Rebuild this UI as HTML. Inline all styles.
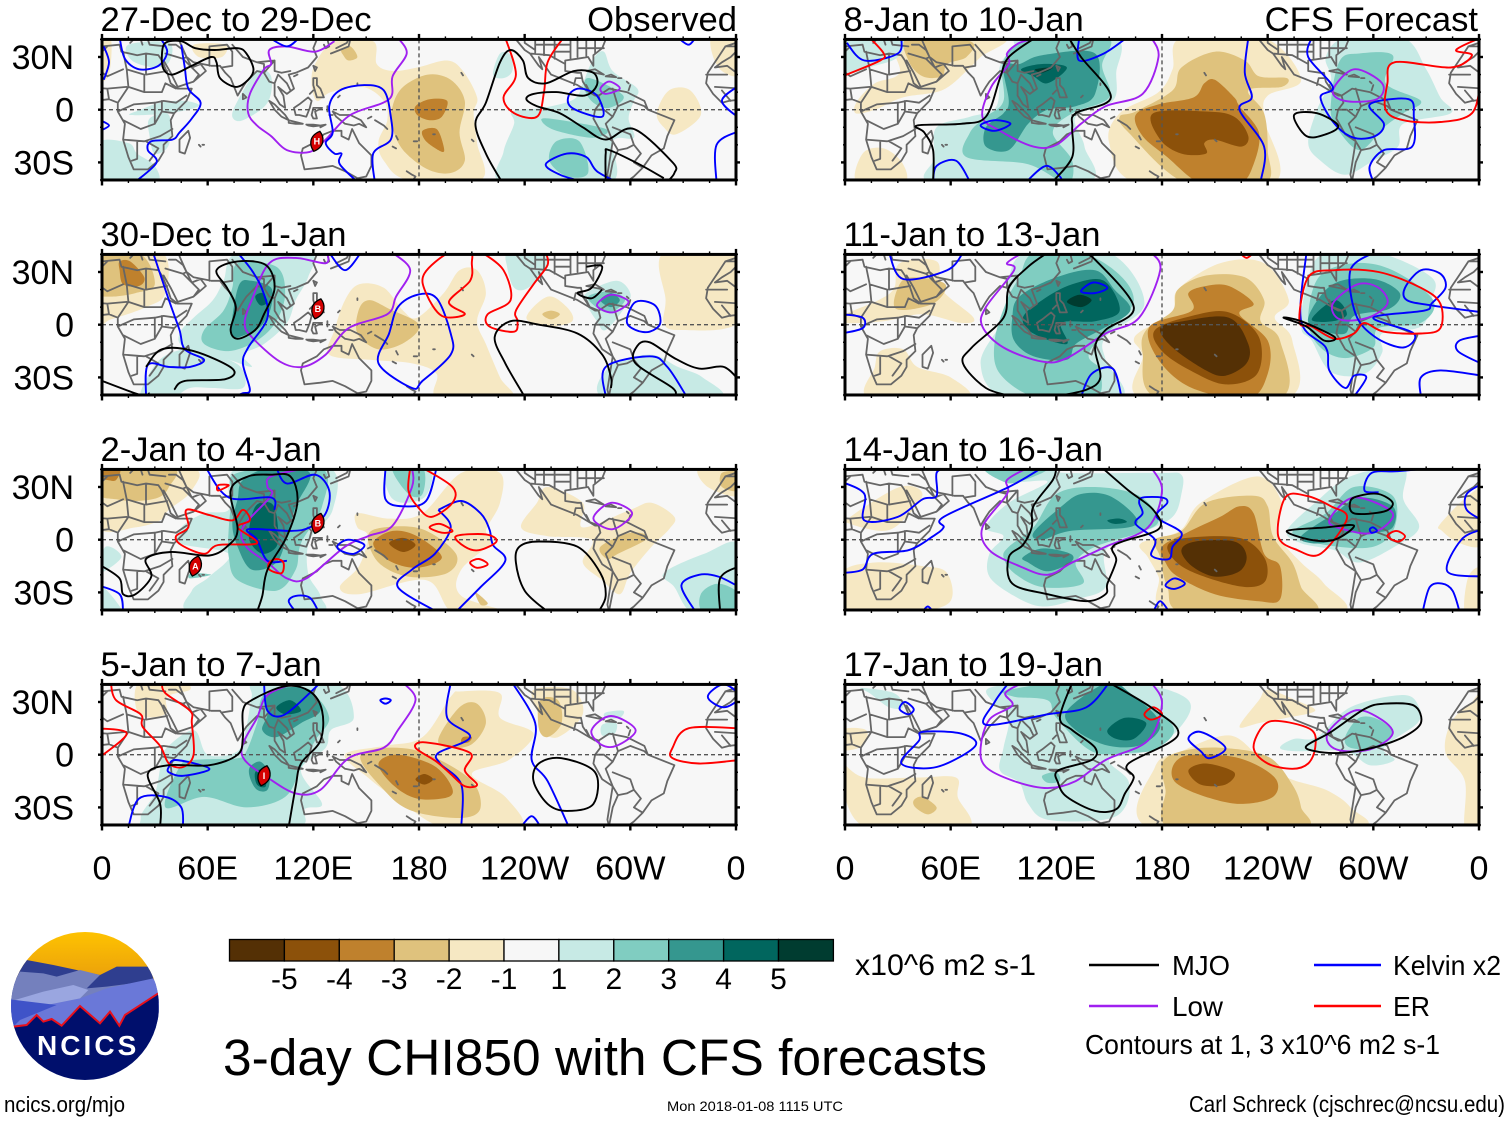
<!DOCTYPE html>
<html lang="en">
<head>
<meta charset="utf-8">
<title>3-day CHI850 with CFS forecasts</title>
<style>
html,body{margin:0;padding:0;background:#fff;}
svg{display:block;}
text{font-family:"Liberation Sans",sans-serif;fill:#000;}
</style>
</head>
<body>
<svg id="chart" xmlns="http://www.w3.org/2000/svg" width="1510" height="1121" viewBox="0 0 1510 1121">
  <g transform="translate(0,920) scale(0.33333)">
    <defs>
      <clipPath id="logoClip"><circle cx="255" cy="258" r="222"/></clipPath>
      <linearGradient id="sun" x1="0" y1="0" x2="0" y2="1"><stop offset="0" stop-color="#ffc400"/><stop offset="1" stop-color="#ea9f0c"/></linearGradient>
    </defs>
    <g clip-path="url(#logoClip)">
      <rect x="30" y="30" width="450" height="150" fill="url(#sun)"/>
      <polygon fill="#2f3e8f" points="30,170 80,120 160,135 300,165 350,140 450,140 480,250 30,250"/>
      <polygon fill="#7480bd" points="30,240 40,190 60,155 130,160 170,170 240,150 300,165 260,205 320,200 470,180 480,300 30,300"/>
      <polygon fill="#6a78d8" points="30,235 50,245 140,255 240,235 320,205 460,175 480,215 480,330 40,320"/>
      <polygon fill="#9aa6e0" points="45,240 130,215 220,195 265,210 240,235 140,255"/>
      <polygon fill="#3f53c8" points="30,238 170,255 60,300 40,320 30,320"/>
      <polygon fill="#000f6c" points="40,320 80,315 110,285 130,305 155,297 185,317 240,258 300,310 330,275 358,317 375,285 475,220 480,480 30,480"/>
      <polyline fill="none" stroke="#e8101c" stroke-width="6" points="40,320 80,315 110,285 130,305 155,297 185,317 240,258 300,310 330,275 358,317 375,285 475,220"/>
    </g>
    <text x="111" y="405" font-size="84" font-weight="bold" textLength="298" lengthAdjust="spacing" style="fill:#fff">NCICS</text>
  </g>
</svg>
<script>
const panelTitles = ["27-Dec to 29-Dec","30-Dec to 1-Jan","2-Jan to 4-Jan","5-Jan to 7-Jan","8-Jan to 10-Jan","11-Jan to 13-Jan","14-Jan to 16-Jan","17-Jan to 19-Jan"];
const lonTickLabels = ["0","60E","120E","180","120W","60W","0"];
const lonTickValues = [0,60,120,180,240,300,360];
const latTickLabels = ["30N","0","30S"];
const latTickValues = [30,0,-30];
const colorbarLevels = [-6,-5,-4,-3,-2,0,2,3,4,5,6];
const colorbarLabels = ["-5","-4","-3","-2","-1","1","2","3","4","5"];
const levelColors = {"-5":"#543005","-4":"#8c510a","-3":"#bf812d","-2":"#dfc27d","-1":"#f6e8c3","1":"#c7eae5","2":"#80cdc1","3":"#35978f","4":"#01665e","5":"#003c30"};

/* land outlines, [lon,lat,...] */
const coastlines = [
[-6,36,0,36,10,37,11,33,20,31,25,32,32,31,34,28,37,21,39,15,43,12,51,12,48,5,41,-2,39,-6,40,-15,35,-20,35,-24,32,-29,26,-34,18,-34,15,-27,12,-17,13,-8,9,-1,9,4,4,6,-4,5,-8,4,-13,9,-17,15,-16,21,-10,30,-6,36],
[49,-12,50,-16,47,-25,44,-24,44,-17,49,-12],
[35,28,39,21,43,13,52,16,59,22,56,26,51,24,48,30,52,27,57,26,62,25,67,25,70,21,73,18,77,8,80,13,82,16,88,22,92,21,95,16,98,15,98,8,101,3,104,1,103,8,100,13,105,9,109,12,106,20,110,21,117,24,122,30,120,35,122,40],
[36,36,27,37,26,40],[23,37,22,40],[16,38,18,40],[-6,36,0,38,0,40],
[95,5,98,3,104,-3,106,-6,102,-4,98,0,95,5],[106,-6,110,-7,114,-8,110,-8,106,-7.5,106,-6],[116,-8.5,120,-8.5,124,-9,120,-9.5,117,-9,116,-8.5],[124,-9,127,-8.5,124,-10,124,-9],
[109,1,112,3,117,7,119,5,118,1,116,-4,112,-3,110,-3,109,1],
[120,1,125,1,121,-1,122,-5,120,-5,119,-3,120,1],[128,2,128,-1],[129,-3,131,-3],[131,-1,135,-3,141,-3,147,-6,150,-10,146,-8,143,-9,138,-8,133,-4,131,-1],
[120,18,122,18,122,14,124,12,126,7,122,7,120,14,120,18],[118,9,120,11],
[130,32,135,34,140,36,141,40],[133,35,139,38,140,40],[120,25,122,24,121,22,120,25],[80,9,82,7,80,6,80,9],[126,37,127,35,129,36,128,40],[109,19,111,20],
[114,-22,122,-18,126,-14,131,-12,136,-12,136,-15,140,-17,142,-11,146,-19,153,-26,153,-32,150,-38,145,-39,138,-35,131,-32,124,-33,115,-34,113,-26,114,-22],
[145,-41,148,-41],[173,-35,176,-37,178,-38,176,-41],[172,-41,174,-41],[151,-5,153,-4],[155,-6,160,-9,162,-11],[167,-15,168,-17],[165,-21,167,-22],[177,-18,179,-18],[204,21,205,19.5],[145,14,145,15],[134,7,135,8],[-172,-14,-171,-14],[-150,-17,-149,-18],[55,-20,56,-21],[57,-20,58,-20],
[-125,40,-120,34,-117,32,-112,25,-110,23,-112,30,-105,20,-95,16,-90,14,-85,11,-80,8,-78,8,-83,10,-87,16,-88,21,-90,21,-97,22,-97,28,-90,29,-84,30,-81,25,-81,31,-76,35,-74,40],
[-78,8,-72,12,-62,10,-52,5,-50,0,-35,-6,-39,-15,-41,-22,-48,-26,-53,-33,-58,-38,-62,-41,-72,-41,-73,-37,-70,-18,-76,-14,-81,-5,-80,0,-77,4,-78,8],
[-85,22,-75,20,-80,23,-85,22],[-74,19,-68,18.5,-71,20,-74,19],[-61,11,-60,14],[-67,18,-65,18],[-62,16,-61,15],
[25,32,25,20,37,22],[12,33,14,23,24,20,24,10,15,13,14,23],[3,36,-3,30,-8,27,-12,24,-5,25,3,19,12,23],[4,6,3,12,14,13],[9,4,15,13],[9,-1,18,3,30,4,35,5,42,4,48,8],[34,10,24,10],[36,15,42,12,36,15,34,10],[12,-6,22,-11,30,-8,30,-1,30,4],[12,-17,24,-18,33,-15,40,-11],[20,-18,20,-28,17,-29],[25,-18,32,-22,30,-25,27,-29],[30,-8,34,-1,41,-2],[34,-1,34,5],[-17,20,-5,20],[-12,13,3,12],[-8,11,-3,5],
[36,32,46,29,48,30],[46,29,55,20,52,16],[38,37,42,37,46,34,48,30],[44,39,48,30],[61,36,61,25],[61,36,71,37,74,33,74,25,68,24],[74,37,80,30,88,27,98,28,98,22,102,21,107,22],[92,21,98,28],[98,15,100,20,102,18,105,15,107,11],[88,27,92,26,92,21],
[-117,32,-106,31,-97,26],[-114,32,-114,40],[-109,31,-109,40],[-103,29,-103,40],[-120,40,-120,38,-114,34],[-114,37,-94,37],[-94,29,-94,40],[-90,30,-90,40],[-90,35,-75,35],[-85,30,-85,40],[-80,32,-80,40],[-103,33,-94,33],[-92,14,-91,18,-88,18],[-83,10,-85,14],
[-70,12,-67,2,-70,-4,-74,-8,-70,-18],[-67,2,-60,5,-52,2,-50,0],[-70,-10,-60,-14,-58,-20,-54,-25,-58,-30,-53,-33],[-70,-18,-67,-23,-70,-30,-72,-40],[-80,0,-75,0,-70,-4],[-58,-20,-62,-22,-67,-23]
];

/* ---- 27-Dec to 29-Dec ---- */
const shade0 = [
[-1,121,26,132,39,154,39,156,26,165,22,179,24,196,28,205,22,213,7,211,-2,213,-19,215,-40,174,-40,160,-29,157,-18,162,-6,160,5,148,13,130,10,122,5,119,15],
[-2,165,2,171,13,185,20,198,17,206,5,203,-13,206,-29,198,-36,185,-34,171,-23,165,-10],[-2,136,34,141,36,145,30,140,28,137,31],
[-3,178,2,186,6,196,5,193,-4,186,-6,179,-3],[-3,182,-12,190,-11,194,-21,193,-24,184,-18],
[-1,315,-2,322,11,334,11,340,-3,326,-14,319,-10],[-1,346,41,362,41,362,20,350,24],[-1,-2,41,5,41,4,20,-2,18],[-1,52,37,70,37,68,30,55,30],
[1,228,-42,228,-24,234,-8,233,-1,250,1,268,6,273,15,279,29,285,33,290,22,304,12,302,5,299,-5,302,-16,290,-18,288,-42],
[1,222,20,226,32,232,31,233,22,228,18],
[2,250,-7,254,-5,286,-11,279,-16,258,-12],[2,254,-29,258,-18,271,-18,276,-36,264,-38],[2,274,12,277,18,296,8,288,1,279,4],
[1,-2,-19,15,-19,20,-25,30,-32,30,-42,-2,-42],[1,16,-3,38,-2,55,2,47,5,33,4,22,0],[1,27,-5,38,-3,38,-20,30,-25,27,-15],[1,74,-4,77,5,88,22,96,19,94,4,80,-6],[1,15,37,38,38,38,27,30,24,17,28]
];
const mjo0 = [[36,38,34,31,35,23,40,20,51,25,62,30,65,27,67,18,76,13,83,17,86,23,82,32,77,35,64,34,53,35,45,39,36,38],
[227,-41,218,-25,212,-8,218,4,226,27,232,34,239,28,242,18,252,15,268,22,279,21,281,14,274,8,258,10,245,9,241,6,247,2,260,-2,273,-10,286,-17,302,-11,324,-30,325,-36,321,-41],
[286,-41,286,-25,288,-23,305,-31,319,-39]];
const low0 = [[132,39,121,33,105,36,95,34,96,26,92,23,84,9,83,-2,88,-9,96,-15,105,-23,118,-24,127,-17,141,-3,163,6,165,19,173,32,168,41],[283,12,288,16,294,12,286,9,283,12]];
const kelvin0 = [[1,36,4,27,1,17],[10,41,13,29,21,23,32,25,37,33,33,41],[45,37,47,24,49,12,56,4,51,-5,44,-13,40,-17,28,-18,26,-23,31,-30,19,-41],[-1,-6,4,-9,-1,-12],[95,41,105,36,112,41],
[155,-42,154,-25,164,-17,164,-4,160,11,149,14,135,11,129,2,131,-13,127,-19,132,-25,136,-25,135,-31,146,-42],
[294,-42,281,-35,275,-27,264,-25,252,-31,260,-37,273,-41],[349,-42,349,-20,362,-12],[362,14,352,5,362,-5],[265,8,271,12,281,8,284,-4,267,1,265,8],[327,41,333,37,337,41]];
const er0 = [[229,41,235,20,228,7,234,-2,247,-4,251,10,253,27,262,41]];
const storms0 = [["H",122,-18]];

/* ---- 30-Dec to 1-Jan ---- */
const shade1 = [
[-1,-2,41,34,41,36,18,25,10,5,3,-2,2],[-2,-2,40,22,40,30,23,19,18,5,16,-2,19],[-3,10,36,16,36,24,27,21,22,12,23,10,31],
[1,77,41,118,41,117,27,110,14,105,1,92,-11,80,-17,85,-24,72,-20,47,-13,44,-5,52,4,63,14,69,25],
[2,77,35,99,33,104,18,99,2,88,-9,72,-15,58,-11,58,-3,69,8,74,21],[3,78,23,85,25,96,21,96,10,91,0,83,-5,74,-7,74,4],[4,87,16,91,18,94,13,90,11],
[1,22,-42,28,-26,37,-17,52,-14,72,-20,80,-26,80,-36,63,-36,50,-36,39,-42],[1,288,-24,311,-17,327,-24,341,-30,350,-42,286,-42],[1,231,41,250,41,253,33,242,21,234,21,230,33],
[1,275,18,292,25,300,18,297,10,286,-3,281,2,275,12],[2,276,16,289,19,297,14,289,7,282,9],[3,283,14,289,18,294,14,289,10],
[-1,319,41,362,41,362,2,328,-3,319,1,320,14],
[-1,146,23,160,21,171,8,179,4,194,18,203,31,213,31,218,18,213,2,218,-11,226,-30,232,-42,191,-42,190,-28,176,-22,152,-20,129,-17,132,-3,138,14],
[-2,146,9,152,14,163,9,180,0,172,-10,157,-14,145,-5],[-1,241,4,253,16,264,10,267,2,253,-1],[-2,250,6,255,8,260,6,255,3]
];
const mjo1 = [[65,31,77,36,93,34,98,21,92,6,87,-3,77,-8,73,-3,76,10,71,21,65,31],[0,-32,22,-40,27,-39],[25,-24,34,-14,52,-15,74,-25,70,-31,47,-32,41,-37],
[240,-41,229,-22,223,-7,232,2,248,0,270,-5,284,-17,289,-30,289,-36],[325,-41,324,-36,303,-22,304,-12,311,-10,325,-19,339,-25,353,-24,362,-32],[275,33,284,33,278,21,270,18,278,15,284,20]];
const low1 = [[165,41,175,31,167,16,162,6,140,-2,127,-17,114,-24,101,-21,85,-7,81,1,85,14,95,35,110,38,127,35,128,41],[281,11,289,17,299,13,290,7,281,11]];
const kelvin1 = [[29,41,38,14,44,-3,47,-14,58,-20,50,-24,38,-24,26,-23,25,-41],[77,41,85,31,91,20,94,4,83,-13,80,-22,84,-37,80,-39,74,-41],[129,41,138,31,147,41],
[176,-36,157,-22,163,-5,168,10,179,17,190,15,198,-5,198,-17,182,-32,176,-36],[298,2,303,13,314,11,317,1,311,-4,303,-3,298,2],[286,-41,286,-24,311,-18,321,-24,332,-41]];
const er1 = [[216,41,228,31,232,14,219,6,220,-1,234,-4,236,2,235,8,245,23,253,34,252,41],[209,41,197,41,183,29,184,18,193,5,206,6,197,13,209,25,210,35,209,41]];
const storms1 = [["B",122.6,9]];

/* ---- 2-Jan to 4-Jan ---- */
const shade2 = [
[-1,-2,41,51,41,51,28,38,17,33,11,19,7,-2,7],[-2,-2,41,40,41,38,30,32,24,19,22,8,23,-2,26],[-3,-2,41,10,41,8,34,3,34,-2,35],
[1,2,-4,11,-10,-2,-19],[1,80,41,129,41,131,17,118,0,117,-19,124,-32,121,-42,52,-42,51,-29,61,-21,72,-8,44,-2,45,7,58,15,72,17,72,32],
[2,77,38,124,41,125,19,113,-2,110,-17,99,-29,77,-23,72,-10,72,7,74,25],[2,51,-19,62,-20,50,-22],
[3,80,34,96,41,118,38,110,19,105,2,99,-13,85,-17,77,-4,74,9,77,23],[4,88,20,97,20,100,6,99,-4,91,-8,84,-1,84,9],
[1,162,41,186,41,184,25,171,21,163,26],[2,165,41,182,41,182,26,174,26],
[1,319,-19,342,-8,362,-3,362,-42,336,-42,325,-27],[2,340,-31,350,-25,362,-31,362,-42,342,-42],[1,-2,-25,12,-42,-2,-42],
[-1,145,15,163,12,182,15,204,38,226,38,226,21,218,5,223,0,204,-17,204,-32,232,-42,200,-42,184,-23,146,-31,135,-27,146,-15,151,2,145,7],
[-2,151,2,160,7,182,6,201,-8,196,-19,174,-21,157,-13],[-3,154,-2,165,5,179,2,193,-10,179,-16,163,-12],[-4,163,-2,171,1,178,-3,171,-7],[-2,212,-30,219,-36,215,-37],
[-1,238,7,247,21,253,30,273,21,273,7,300,17,312,21,325,13,322,6,312,-4,300,-19,294,-31,284,-23,273,-13,278,0,253,2],[-2,283,-4,300,4,310,1,293,-8,287,-11],
[-1,339,41,362,41,362,25,344,30],[-2,352,38,362,38,362,28,352,30]
];
const mjo2 = [[0,-15,10,-22,12,-31,19,-31,28,-21,25,-11,39,-7,61,-9,72,-3,77,6,73,28,83,36,96,37,107,36,111,22,105,2,94,-17,91,-32,88,-41],
[253,-41,240,-29,235,-13,237,-4,248,-1,270,-4,283,-19,286,-32,282,-41],[351,-41,351,-22,362,-15]];
const low2 = [[117,41,96,36,94,30,96,25,80,7,82,-4,94,-13,105,-22,116,-22,138,-4,151,2,165,8,176,30,176,41],[279,12,289,21,301,15,290,6,279,12]];
const kelvin2 = [[59,41,72,24,96,24,98,17],[99,41,105,32,121,37,129,28,127,15,118,7,107,5,83,6,88,0,94,-12,105,-12],[161,41,161,23,171,19,184,22,190,41],
[191,17,204,22,215,15,220,6,222,-3,229,-12,215,-27,201,-41],[190,-41,168,-27,176,-17,189,-8,198,7,191,17],[134,-3,140,0,149,-3,143,-8,135,-6,134,-3],
[123,-41,118,-33,110,-32,106,-35,110,-41],[337,-41,329,-26,339,-20,350,-21,362,-27],[-2,-26,10,-31,12,-41]];
const er2 = [[42,2,49,7,48,17,61,14,74,11,80,17,84,11,77,7,88,-2,66,-3,58,-8,45,-3,42,2],[66,31,72,31,66,28,66,31],[95,-13,99,-11,103,-13,102,-19,95,-17,95,-13],
[182,41,199,30,199,21,187,13,179,19,174,28,175,41],[186,7,192,9,199,5,193,4,186,7],[201,2,218,3,224,-1,214,-6,206,-4,201,2],[209,-13,214,-11,219,-14,213,-16,209,-13]];
const storms2 = [["B",122.6,9.3],["A",53,-15]];

/* ---- 5-Jan to 7-Jan ---- */
const shade3 = [
[-1,21,41,45,41,50,37,37,33,36,23,21,23],
[1,88,41,132,41,143,21,130,14,127,4,113,-9,125,-28,115,-31,108,-42,32,-42,22,-36,30,-22,33,-8,35,2,52,14,60,0,77,2,82,16,85,33],
[2,93,35,118,35,129,21,121,8,113,-7,104,-24,82,-30,58,-24,36,-30,44,-7,52,-3,77,-2,82,2,88,18],
[3,93,33,101,38,118,37,124,25,113,18,99,10,91,14,94,23],[4,99,27,107,31,113,25,104,23],[3,84,-7,90,-4,95,-11,94,-20,88,-20,84,-13],[4,87,-10,92,-9,93,-18,88,-17],
[1,286,24,296,25,294,21,286,21],[1,284,17,292,18,291,12,284,11],
[-1,182,10,198,33,204,36,226,35,226,21,245,12,231,-3,210,-11,229,-24,238,-42,196,-42,171,-28,151,-13,138,0,160,5],
[-2,191,9,203,27,213,29,218,18,210,6,197,4],[-3,205,10,210,10,208,7,204,7],[-2,147,0,176,3,208,-13,215,-30,204,-36,176,-32,160,-20],
[-3,157,-5,168,0,188,-6,198,-17,197,-24,179,-25,165,-17],[-4,178,-14,183,-11,188,-14,183,-17],
[-1,245,37,267,37,273,23,259,10,249,14,247,25],[-2,249,31,259,31,261,18,253,10,248,15]
];
const mjo3 = [[33,-41,33,-28,26,-11,38,-6,61,-6,77,0,80,10,80,25,85,31,104,39,118,36,125,25,124,8,113,-5,110,-18,106,-41],[245,-15,248,-5,261,-2,280,-10,279,-28,264,-32,253,-28,245,-15]];
const low3 = [[171,41,178,31,168,14,160,4,140,-2,124,-20,110,-22,94,-13,81,-3,80,6,88,21,94,34,110,41],[278,14,289,22,303,14,292,5,283,6,278,14]];
const kelvin3 = [[92,41,94,25,104,23,124,41],[198,41,196,21,209,10,191,1,192,-5,204,-17,204,-41],[233,41,246,18,244,-3,253,-15,265,-41],[158,31,161,32,164,31,161,29,158,31],
[15,-41,21,-25,36,-24,45,-30,46,-41],[38,-7,42,-3,61,-8,46,-12,38,-10,38,-7],[238,-41,244,-35,249,-41],[344,33,353,40,362,33,353,27,344,33]];
const er3 = [[-2,-2,14,12,-2,15],[5,41,8,31,22,23,23,16,33,5,38,-5,46,-7,52,0,51,18,50,25,36,35,34,41],[178,4,184,7,209,1,206,-9,213,-17,206,-18,198,-11,190,-4,178,4],[362,15,333,15,324,4,324,-2,339,-5,362,-3]];
const storms3 = [["I",92,-12]];

/* ---- 8-Jan to 10-Jan ---- */
const shade4 = [
[-1,31,41,90,41,77,30,69,22,55,11,33,7,17,0,6,-2,7,5,17,15,31,21],[-2,36,41,71,39,69,30,58,26,55,19,44,19,36,28],[-1,10,-25,22,-22,33,-31,33,-42,7,-42],
[-1,156,-2,178,10,186,23,191,41,238,41,259,17,240,8,238,-5,243,-42,167,-42,150,-19],
[-2,165,-1,186,11,191,24,210,33,227,28,235,19,251,18,248,13,229,11,238,-2,240,-23,238,-42,194,-42,161,-13,156,-4],
[-3,165,-3,178,3,198,7,204,15,210,17,221,7,224,2,235,-13,232,-31,224,-42,202,-42,183,-27,169,-15],
[-4,175,-2,205,-1,221,-4,229,-15,225,-21,210,-17,204,-19,205,-25,191,-25,179,-17],
[1,101,41,153,41,154,21,152,5,131,-4,136,-21,136,-42,51,-42,51,-27,52,-10,71,-4,86,2,88,25,96,35],
[2,107,41,149,41,146,25,150,7,129,-2,118,-13,129,-29,126,-42,104,-31,69,-27,71,-13,80,-4,90,5,90,28],
[3,93,5,90,25,99,26,112,31,142,32,142,9,131,2,115,0,104,-8,93,-23,80,-21,80,-10,90,-2],[4,100,23,112,26,126,24,115,15,107,19],[5,108,23,118,24,112,21],
[1,-2,41,32,41,30,30,17,25,-2,21],
[1,268,0,276,17,273,30,284,41,317,41,330,23,338,7,344,-2,317,-8,314,-21,300,-29,284,-37,270,-29,263,-19],
[2,276,5,281,28,292,32,311,31,307,15,327,5,317,-2,306,-10,292,-23,278,-8]
];
const mjo4 = [[118,-41,129,-27,129,-10,131,-2,151,7,134,30,127,41],[108,41,93,30,88,18,80,-4,66,-8,41,-9,45,-13,50,-23,50,-41],[255,-3,268,-2,280,-9,273,-14,262,-15,255,-3]];
const low4 = [[174,41,178,30,169,9,148,2,134,-8,120,-20,107,-21,88,-12,78,-4,83,13,93,26,92,32,99,38,110,41],[277,11,289,23,305,15,302,6,284,5,277,11]];
const kelvin4 = [[1,38,11,28,30,32,32,41],[133,41,133,28,147,32,160,41],[77,-9,85,-6,94,-8,85,-12,77,-9],[50,-41,52,-32,63,-29,71,-41],[103,-41,114,-32,122,-38,123,-41],
[229,41,227,21,231,7,224,0,238,-21,236,-41],[265,41,263,30,277,13,270,7,278,-8,289,-16,301,-15,306,-8,298,3,320,6,323,-4,322,-21,306,-23,298,-32,300,-41]];
const er4 = [[-1,19,1,20,20,28,22,32,14,41],[361,17,356,-2,338,-7,317,-6,307,0,308,15,312,27,344,24,356,31,347,34,361,41]];
const storms4 = [];

/* ---- 11-Jan to 13-Jan ---- */
const shade5 = [
[-1,31,35,52,36,55,20,73,4,66,1,44,6,22,2,-2,1,-2,5,19,14,28,21],[-2,31,23,39,27,57,23,50,12,29,9],[-1,20,-15,33,-14,41,-24,60,-30,69,-42,14,-42,17,-24],
[-1,164,-9,169,-3,186,6,189,20,213,35,238,35,252,14,244,4,254,-9,251,-42,169,-42,169,-18],
[-2,171,-3,186,8,189,20,205,28,227,27,238,14,236,2,247,-9,247,-42,178,-42,169,-16],
[-3,173,-1,197,8,195,18,205,22,218,22,232,12,224,6,240,-9,240,-28,229,-42,197,-36,178,-20],
[-4,176,-3,197,5,218,7,235,-7,234,-28,216,-34,196,-26,180,-15],[-5,179,-2,192,2,218,4,229,-11,228,-22,216,-29,205,-26,186,-13],
[1,104,41,150,41,170,12,148,-7,148,-20,156,-42,93,-42,77,-22,90,4,93,27],
[2,108,41,142,38,164,14,139,-15,145,-26,142,-42,110,-42,88,-28,85,-9,92,14,99,27],
[3,99,16,120,27,142,31,153,20,162,8,145,-3,131,-11,126,-20,107,-18,96,-9,95,4],
[4,101,4,112,14,129,23,147,25,156,8,142,2,123,1,126,-11,107,-5],[5,126,13,133,17,140,14,134,10],
[1,259,-1,263,27,273,41,303,41,333,27,333,14,327,-1,305,-5,305,-16,295,-28,276,-27,265,-9],
[2,263,2,269,27,289,35,311,31,334,14,327,1,303,-2,300,-13,284,-19,270,-13],[3,263,4,277,23,300,26,315,18,309,9,289,5,284,-5,270,-3],[4,265,3,278,14,285,6,277,2]
];
const mjo5 = [[115,41,104,33,93,21,90,4,72,-13,67,-22,80,-36,96,-41],[134,41,142,37,164,10,148,-3,142,-13,145,-30,137,-37,118,-41],[249,4,259,2,278,-7,272,-9,262,-1,249,4]];
const low5 = [[174,41,179,31,167,4,148,-5,126,-19,112,-21,90,-13,78,-1,80,10,96,31,92,35,101,41],[277,12,291,23,303,21,308,12,297,4,281,3,277,12]];
const kelvin5 = [[25,41,33,26,58,31,67,41],[-2,6,10,4,10,-2,-2,-5],[134,19,141,24,149,21,142,18,134,19],[134,-41,140,-28,152,-25,157,-41],
[262,41,259,2,273,-13,275,-26,284,-36,289,-29,296,-30,289,-41],
[300,41,287,31,290,6,301,-7,317,-13,323,-5,300,4,329,8,333,12,341,21,338,29,327,31,318,21,319,14,333,11,362,7],[362,-6,349,-9,348,-15,361,-22],[327,-41,327,-30,338,-26,362,-29]];
const er5 = [[224,41,228,38,232,41],[263,27,278,31,303,30,327,21,338,12,338,-2,327,-5,306,-4,295,1,289,-5,278,-8,265,-1,258,2,263,27]];
const storms5 = [];

/* ---- 14-Jan to 16-Jan ---- */
const shade6 = [
[-1,-2,-19,17,-13,44,-15,58,-19,59,-36,33,-42,-2,-42],[-1,3,13,31,30,44,26,33,11,22,5,3,9],[-1,338,9,355,26,362,26,362,-2,349,-2,339,5],[-1,352,-42,354,-21,362,-17,362,-42],
[-1,168,-2,190,5,202,21,234,36,248,21,245,4,259,-13,272,-25,280,-42,186,-42,178,-21,172,-10],
[-2,176,0,191,5,205,21,232,25,240,19,243,2,254,-13,259,-27,265,-42,194,-42,183,-27,179,-10],
[-3,180,-4,194,4,213,13,224,19,232,15,238,-8,247,-15,247,-34,235,-35,210,-31,189,-21,182,-13],
[-4,183,-4,194,1,224,1,238,-10,239,-23,229,-27,210,-23,191,-15],[-5,191,-6,199,-1,221,-1,228,-9,224,-18,210,-21,197,-15],
[1,80,41,118,41,125,38,178,38,191,37,191,26,186,13,169,4,148,-6,148,-27,131,-34,112,-38,96,-32,82,-21,82,-8,90,2,80,7,93,21,115,33,93,33],
[2,93,-4,107,7,120,26,142,30,167,25,178,11,167,4,142,-4,131,-13,135,-25,112,-27,96,-19,90,-10],[3,101,-10,112,-5,128,-8,128,-13,115,-18,104,-13],
[3,107,4,123,19,134,26,150,25,165,13,161,7,128,5,112,0],[4,149,11,156,12,160,10,153,9],[2,80,41,115,41,99,33,90,33],
[1,251,5,267,21,287,36,317,41,317,23,326,7,312,-4,292,-13,278,-6,259,-2],[2,254,4,273,15,289,30,311,25,312,7,300,-4,273,-3],
[3,259,2,278,15,292,24,311,19,311,7,300,4,287,4,276,-1,265,-2]
];
const mjo6 = [[120,41,118,34,107,19,106,7,101,-3,93,-10,95,-25,115,-31,137,-35,148,-31,149,-25,154,-12,153,-3,178,6,175,17,161,28,146,41],[251,5,273,7,289,8,278,0,264,0,251,5],[287,22,292,25,303,26,311,21,306,16,289,15,287,22]];
const low6 = [[174,41,180,28,172,7,148,-4,129,-13,115,-20,99,-15,82,-6,78,7,92,26,92,34,104,41],[275,11,289,24,311,15,300,4,283,6,275,11]];
const kelvin6 = [[-2,33,11,26,11,11,30,13,44,23,52,25,52,38,58,41],[-2,-19,10,-17,16,-8,36,-6,50,2,56,7,56,13,93,30,112,41],
[184,-11,186,-4,191,4,177,13,183,21,180,24,169,24,167,21,169,15,165,9,176,0,174,-9,184,-11],[182,-26,187,-22,193,-25,187,-28,182,-26],[175,-41,179,-35,184,-41],[44,-41,47,-38,50,-41],
[303,27,295,28,299,38,314,39,336,41],[362,32,353,26,353,17,362,11],[362,6,350,0,342,-18,362,-21],[328,-41,332,-27,339,-25,345,-29,349,-41],[298,6,300,7,302,5,299,4,298,6]];
const er6 = [[250,24,262,25,276,19,285,12,270,-8,257,-6,246,2,250,24],[308,2,313,5,318,2,314,-1,308,2]];
const storms6 = [];

/* ---- 17-Jan to 19-Jan ---- */
const shade7 = [
[-1,-2,-5,11,-13,41,-13,63,-13,64,-24,69,-42,13,-42,-2,-17],[-1,-2,14,12,14,10,5,-2,3],[-2,39,-26,44,-24,52,-30,47,-34,40,-30],
[-1,344,18,355,29,362,29,362,-42,352,-42,352,-15,341,1],[-1,224,16,235,31,240,37,256,31,267,25,251,21,235,18],
[-1,174,-42,176,-7,191,2,218,11,235,-1,251,-13,273,-20,287,-30,289,-42],
[-2,180,-5,191,2,213,4,240,-1,254,-17,259,-30,259,-42,186,-42,182,-20],[-3,187,-5,197,0,224,-2,244,-13,243,-24,224,-28,202,-23,187,-15],[-4,195,-9,205,-5,221,-10,216,-17,202,-17],
[1,82,38,115,41,164,41,195,31,189,14,170,2,150,-3,161,-15,159,-30,147,-37,115,-37,104,-28,99,-16,88,-9,90,4,93,21,85,29],
[2,93,37,145,41,185,18,178,4,161,1,140,2,120,21,115,31,96,33],[3,126,25,149,41,162,35,179,18,169,6,150,5,131,14],[4,149,14,159,21,171,18,164,9,154,9],[2,112,-12,120,-10,122,-15,115,-16],
[1,247,4,255,9,268,10,287,27,317,34,326,27,325,18,306,4,312,-3,298,-6,284,2,256,2],[2,284,10,292,21,303,20,311,12,301,4,287,4],[1,9,38,28,35,33,27,25,27,14,35]
];
const mjo7 = [[129,41,122,21,129,14,142,4,140,-3,121,-9,121,-16,126,-24,142,-32,154,-31,159,-22,164,-13,161,-5,189,11,175,26,150,41],[262,5,276,13,295,26,306,29,323,28,327,18,317,10,300,4,281,1,267,2,262,5]];
const low7 = [[174,41,180,29,172,8,148,-3,131,-15,115,-19,96,-15,80,-7,77,4,82,20,95,28,91,35,101,41],[274,12,289,25,303,21,311,12,298,3,279,3,274,12]];
const kelvin7 = [[31,26,34,30,39,26,36,23,31,26],[93,41,85,30,80,17,115,23,137,27,150,41],[32,-5,42,8,44,13,66,12,74,5,52,-7,32,-5],[195,9,202,13,216,4,207,-2,202,2,195,9]];
const er7 = [[170,23,175,27,180,23,174,20,170,23],[232,4,238,17,248,19,265,14,267,4,263,-5,254,-8,240,-5,232,4]];
const storms7 = [];

const shadeSets = [shade0,shade1,shade2,shade3,shade4,shade5,shade6,shade7];
const mjoSets = [mjo0,mjo1,mjo2,mjo3,mjo4,mjo5,mjo6,mjo7];
const lowSets = [low0,low1,low2,low3,low4,low5,low6,low7];
const kelvinSets = [kelvin0,kelvin1,kelvin2,kelvin3,kelvin4,kelvin5,kelvin6,kelvin7];
const erSets = [er0,er1,er2,er3,er4,er5,er6,er7];
const stormSets = [storms0,storms1,storms2,storms3,storms4,storms5,storms6,storms7];

const svg = document.getElementById('chart');
const NS = 'http://www.w3.org/2000/svg';
const colLeft = [102, 845], rowZero = [109.7, 324.7, 539.7, 754.7];
const mapW = 634, latScale = 1.757;
function make(parent, tag, attrs){
  const el = document.createElementNS(NS, tag);
  for (const k in attrs) el.setAttribute(k, attrs[k]);
  parent.appendChild(el);
  return el;
}
function lonToX(col, lon){ return colLeft[col] + lon / 360 * mapW; }
function latToY(row, lat){ return rowZero[row] - lat * latScale; }
function toPts(flat, col, row){
  const p = [];
  for (let i = 0; i < flat.length; i += 2) p.push([lonToX(col, flat[i]), latToY(row, flat[i + 1])]);
  return p;
}
function smooth(p, closed){
  const n = p.length, f = v => v.toFixed(1);
  let d = 'M' + f(p[0][0]) + ' ' + f(p[0][1]);
  const count = closed ? n : n - 1;
  for (let i = 0; i < count; i++){
    const p0 = closed ? p[(i - 1 + n) % n] : p[Math.max(i - 1, 0)];
    const p1 = p[i % n];
    const p2 = p[(i + 1) % n];
    const p3 = closed ? p[(i + 2) % n] : p[Math.min(i + 2, n - 1)];
    d += 'C' + f(p1[0] + (p2[0] - p0[0]) / 6) + ' ' + f(p1[1] + (p2[1] - p0[1]) / 6) + ' ' + f(p2[0] - (p3[0] - p1[0]) / 6) + ' ' + f(p2[1] - (p3[1] - p1[1]) / 6) + ' ' + f(p2[0]) + ' ' + f(p2[1]);
  }
  return d + (closed ? 'Z' : '');
}
function contourPath(flat, col, row){
  const n = flat.length;
  const isClosed = flat[0] === flat[n - 2] && flat[1] === flat[n - 1];
  const pts = toPts(isClosed ? flat.slice(0, n - 2) : flat, col, row);
  return smooth(pts, isClosed);
}
function label(parent, str, x, y, size, scale, anchor){
  const t = make(parent, 'text', {x: x, y: y, 'font-size': size, 'text-anchor': anchor || 'start'});
  t.textContent = str;
  if (scale !== 1){
    t.setAttribute('textLength', (t.getComputedTextLength() * scale).toFixed(1));
    t.setAttribute('lengthAdjust', 'spacingAndGlyphs');
  }
  return t;
}
const defs = make(svg, 'defs', {});

panelTitles.forEach(function(title, idx){
  const col = idx < 4 ? 0 : 1, row = idx % 4;
  const x0 = colLeft[col], x1 = x0 + mapW, yT = latToY(row, 40), yB = latToY(row, -40);
  const g = make(svg, 'g', {});
  
  

  const clip = make(defs, 'clipPath', {id: 'clip' + idx});
  make(clip, 'rect', {x: x0, y: yT, width: mapW, height: yB - yT});

  const bg = make(g, 'rect', {x: x0, y: yT, width: mapW, height: yB - yT, fill: '#f7f7f7'});
  
  

  const inner = make(g, 'g', {'clip-path': 'url(#clip' + idx + ')'});

  shadeSets[idx].slice().sort(function(a, b){ return Math.abs(a[0]) - Math.abs(b[0]); }).forEach(function(s){
    const el = make(inner, 'path', {d: smooth(toPts(s.slice(1), col, row), true), fill: levelColors[s[0]]});
    
    
  });

  let landD = '';
  [0, 360].forEach(function(off){
    coastlines.forEach(function(c){
      for (let i = 0; i < c.length; i += 2){
        landD += (i ? 'L' : 'M') + lonToX(col, c[i] + off).toFixed(1) + ' ' + latToY(row, c[i + 1]).toFixed(1);
      }
    });
  });
  const land = make(inner, 'path', {d: landD, fill: 'none', stroke: '#666', 'stroke-width': 1.8, 'stroke-linejoin': 'round', 'stroke-linecap': 'round'});
  
  

  const zero = make(inner, 'line', {x1: x0, x2: x1, y1: latToY(row, 0), y2: latToY(row, 0), stroke: '#555', 'stroke-width': 1.4, 'stroke-dasharray': '4 3'});
  
  
  const date = make(inner, 'line', {x1: lonToX(col, 180), x2: lonToX(col, 180), y1: yT, y2: yB, stroke: '#555', 'stroke-width': 1.4, 'stroke-dasharray': '4 3'});
  
  

  [[lowSets, '#a020f0', 'low'], [kelvinSets, '#0000ff', 'kelvin'], [erSets, '#ff0000', 'er'], [mjoSets, '#000000', 'mjo']].forEach(function(family){
    family[0][idx].forEach(function(flat){
      const el = make(inner, 'path', {d: contourPath(flat, col, row), fill: 'none', stroke: family[1], 'stroke-width': 1.9});
      
      
    });
  });

  stormSets[idx].forEach(function(st){
    const sx = lonToX(col, st[1]), sy = latToY(row, st[2]);
    const m = make(inner, 'g', {});
    
    
    make(m, 'path', {d: 'M' + (sx + 3) + ' ' + (sy - 10) + 'C' + (sx - 9) + ' ' + (sy - 5) + ' ' + (sx - 7) + ' ' + (sy + 5) + ' ' + (sx - 3) + ' ' + (sy + 10) + 'C' + (sx + 9) + ' ' + (sy + 5) + ' ' + (sx + 7) + ' ' + (sy - 5) + ' ' + (sx + 3) + ' ' + (sy - 10) + 'Z', fill: '#d40000', stroke: '#000', 'stroke-width': 1.3});
    const lt = make(m, 'text', {x: sx, y: sy + 3.2, 'font-size': 9, 'font-weight': 'bold', 'text-anchor': 'middle', style: 'fill:#fff'});
    lt.textContent = st[0];
  });

  const ticks = make(g, 'g', {stroke: '#000', fill: 'none'});
  
  
  for (let lon = 0; lon <= 360; lon += 15){
    const major = lon % 60 === 0;
    const len = major ? 5.5 : 3;
    const tx = lonToX(col, lon);
    make(ticks, 'line', {x1: tx, x2: tx, y1: yT - len, y2: yT, 'stroke-width': major ? 2.4 : 1.4});
    make(ticks, 'line', {x1: tx, x2: tx, y1: yB, y2: yB + len, 'stroke-width': major ? 2.4 : 1.4});
  }
  for (let lat = -40; lat <= 40; lat += 10){
    const major = lat % 30 === 0;
    const len = major ? 4 : 2;
    const ty = latToY(row, lat);
    make(ticks, 'line', {x1: x0 - len, x2: x0, y1: ty, y2: ty, 'stroke-width': major ? 2.4 : 1.4});
    make(ticks, 'line', {x1: x1, x2: x1 + len, y1: ty, y2: ty, 'stroke-width': major ? 2.4 : 1.4});
  }

  const frame = make(g, 'rect', {x: x0, y: yT, width: mapW, height: yB - yT, fill: 'none', stroke: '#000', 'stroke-width': 3});
  
  

  const tt = label(g, title, x0 - 1.5, yT - 8.5, 34, 1.017);
  
  

  if (col === 0){
    latTickLabels.forEach(function(txt, i){
      const l = label(g, txt, 74, latToY(row, latTickValues[i]) + 12, 34, 1, 'end');
      
      
    });
  }
  if (row === 3){
    lonTickLabels.forEach(function(txt, i){
      const l = label(g, txt, lonToX(col, lonTickValues[i]), 879.5, 33.5, 1.02, 'middle');
      
      
    });
  }
});

const obs = label(svg, 'Observed', 737, 31, 34, 1.017, 'end');


const fc = label(svg, 'CFS Forecast', 1478, 31, 34, 1.017, 'end');



/* colour bar */
const cb = make(svg, 'g', {});


const cbX = 229.5, cbW = 54.9;
const cbColors = ['#543005','#8c510a','#bf812d','#dfc27d','#f6e8c3','#f7f7f7','#c7eae5','#80cdc1','#35978f','#01665e','#003c30'];
colorbarLevels.forEach(function(lv, i){
  const r = make(cb, 'rect', {x: cbX + i * cbW, y: 939.5, width: cbW, height: 21.5, fill: cbColors[i], stroke: '#000', 'stroke-width': 1.3});
  
  
});
colorbarLabels.forEach(function(txt, i){
  const l = label(cb, txt, cbX + (i + 1) * cbW, 989, 30, 1, 'middle');
  
  
});

function fitted(str, x, y, size, width, name){
  const t = make(svg, 'text', {x: x, y: y, 'font-size': size, textLength: width, lengthAdjust: 'spacingAndGlyphs'});
  t.textContent = str;
  
  
  return t;
}
fitted('x10^6 m2 s-1', 855, 975, 30, 181, 'colorbar-units');
fitted('MJO', 1172, 975, 28, 58, 'legend-label-mjo');
fitted('Kelvin x2', 1393, 975, 28, 108, 'legend-label-kelvin');
fitted('Low', 1172, 1016, 28, 51, 'legend-label-low');
fitted('ER', 1393, 1016, 28, 37, 'legend-label-er');
fitted('Contours at 1, 3 x10^6 m2 s-1', 1085, 1054, 28, 355, 'contour-note');
fitted('3-day CHI850 with CFS forecasts', 223, 1075, 51, 764, 'main-title');
fitted('ncics.org/mjo', 4, 1112, 22, 121, 'ncics-url');
fitted('Mon 2018-01-08 1115 UTC', 667, 1111, 14, 176, 'timestamp');
fitted('Carl Schreck (cjschrec@ncsu.edu)', 1189, 1112, 23, 316, 'author-credit');

[[1089,1159,965,'#000000','legend-line-mjo'],[1314,1381,965,'#0000ff','legend-line-kelvin'],[1089,1158,1006,'#a020f0','legend-line-low'],[1314,1381,1006,'#ff0000','legend-line-er']].forEach(function(a){
  const l = make(svg, 'line', {x1: a[0], x2: a[1], y1: a[2], y2: a[2], stroke: a[3], 'stroke-width': 2.4});
  
  
});
</script>
</body>
</html>
